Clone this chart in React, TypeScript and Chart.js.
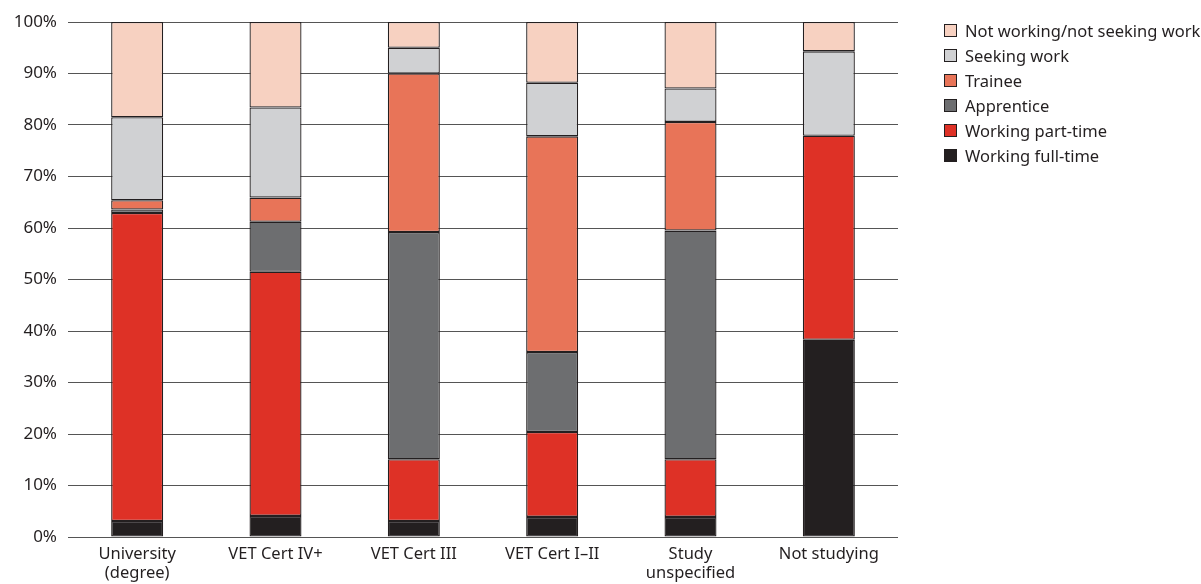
import React, { useEffect, useRef } from "react";
import { Chart, registerables } from "chart.js";

Chart.register(...registerables);

const categories: (string | string[])[] = [
  ["University", "(degree)"],
  "VET Cert IV+",
  "VET Cert III",
  "VET Cert I–II",
  ["Study", "unspecified"],
  "Not studying",
];

const workingFullTime = [3.1, 4.1, 3.1, 3.9, 3.9, 38.3];
const workingPartTime = [59.8, 47.4, 12.0, 16.5, 11.2, 39.6];
const apprentice = [0.7, 9.7, 44.1, 15.5, 44.4, 0];
const trainee = [1.8, 4.7, 30.8, 41.9, 21.1, 0];
const seekingWork = [16.1, 17.5, 5.0, 10.4, 6.5, 16.4];
const notWorking = [18.5, 16.6, 5.0, 11.8, 12.9, 5.7];

const seriesNames = [
  "Working full-time",
  "Working part-time",
  "Apprentice",
  "Trainee",
  "Seeking work",
  "Not working/not seeking work",
];
const seriesColors = ["#231f20", "#de3126", "#6d6e70", "#e87458", "#d0d1d3", "#f7d1c1"];
const seriesValues = [workingFullTime, workingPartTime, apprentice, trainee, seekingWork, notWorking];

const FONT = "'Noto Sans', sans-serif";
const TEXT = "#231f20";

export default function App() {
  const ref = useRef<HTMLCanvasElement | null>(null);

  useEffect(() => {
    if (!ref.current) return;
    const chart = new Chart(ref.current, {
      type: "bar",
      data: {
        labels: categories,
        datasets: seriesNames.map((name, i) => ({
          label: name,
          data: seriesValues[i],
          backgroundColor: seriesColors[i],
          borderColor: "#231f20",
          borderWidth: 1.3,
          borderSkipped: false,
          barPercentage: 0.376,
          categoryPercentage: 1,
        })),
      },
      options: {
        animation: false,
        responsive: false,
        maintainAspectRatio: false,
        layout: { padding: { top: 22, right: 303, left: 0, bottom: 0 } },
        plugins: {
          legend: { display: false },
          tooltip: { enabled: false },
        },
        scales: {
          x: {
            stacked: true,
            grid: { display: false, drawTicks: false },
            border: { display: false },
            ticks: {
              color: TEXT,
              font: { family: FONT, size: 16.5, lineHeight: 1.15 },
              padding: 8,
              maxRotation: 0,
              autoSkip: false,
            },
            afterFit: (scale: any) => {
              scale.height = 47;
            },
          },
          y: {
            stacked: true,
            min: 0,
            max: 100,
            grid: { color: "#555", lineWidth: 1, drawTicks: false },
            border: { display: false },
            ticks: {
              stepSize: 10,
              color: TEXT,
              font: { family: FONT, size: 17 },
              padding: 11,
              callback: (v: any) => v + "%",
            },
            afterFit: (scale: any) => {
              scale.width = 68;
            },
          },
        },
      },
    });
    return () => chart.destroy();
  }, []);

  const legendItems = seriesNames.map((n, i) => ({ name: n, color: seriesColors[i] })).reverse();

  return (
    <div style={{ position: "absolute", left: 0, top: 0, width: 1201, height: 584, background: "#fff" }}>
      <canvas ref={ref} width={1201} height={584} style={{ position: "absolute", left: 0, top: 0 }} />
      <div style={{ position: "absolute", left: 944, top: 18, fontFamily: FONT, fontSize: 16.5, color: TEXT }}>
        {legendItems.map((it) => (
          <div key={it.name} style={{ display: "flex", alignItems: "center", height: 25, whiteSpace: "nowrap" }}>
            <span
              style={{
                display: "inline-block",
                width: 11,
                height: 11,
                background: it.color,
                border: "1px solid #231f20",
                marginRight: 8,
              }}
            />
            <span>{it.name}</span>
          </div>
        ))}
      </div>
    </div>
  );
}
